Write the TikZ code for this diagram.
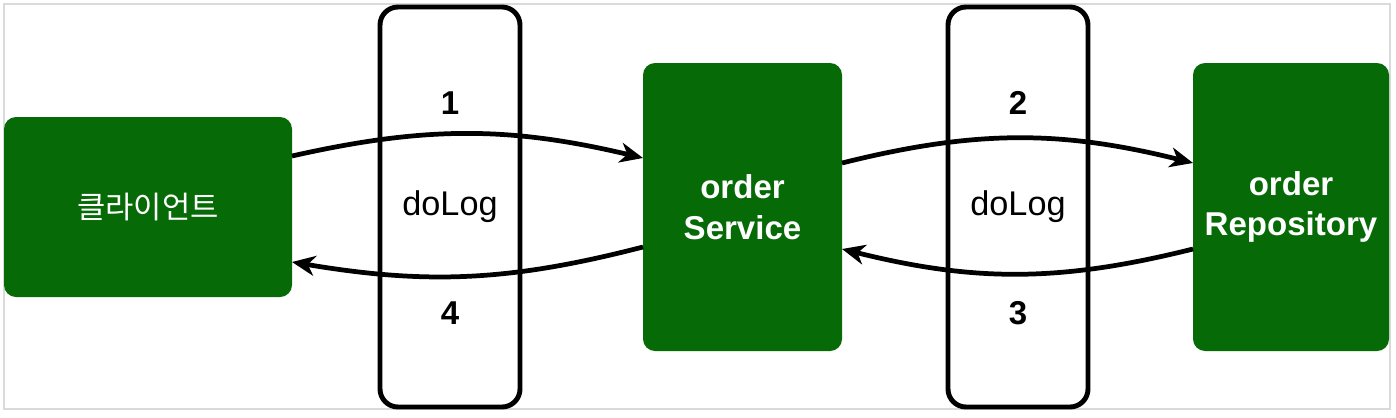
\documentclass[tikz,border=0pt]{standalone}
\usepackage{fontspec}
\setmainfont{Liberation Sans}
\newfontfamily\kofont{Noto Sans CJK KR}
\usepackage{tikz}
\usetikzlibrary{arrows.meta, positioning}
\definecolor{boxgreen}{RGB}{6,106,6}
\definecolor{framegray}{RGB}{218,218,218}
\tikzstyle{arrow} = [line width=2.7pt, -{Stealth[length=0.46cm, width=0.4cm, inset=0.14cm]}, black]
\tikzstyle{greenbox} = [rectangle, rounded corners=0.24cm, fill=boxgreen, draw=none, text=white, outer sep=0pt,
                        align=center, font=\fontsize{18.8}{23}\selectfont\bfseries]
\tikzstyle{logbox} = [rectangle, rounded corners=0.36cm, minimum width=2.8cm, minimum height=8cm, outer sep=0pt,
                      draw=black, line width=2.8pt, fill=white, align=center, font=\fontsize{19.5}{23}\selectfont]
\tikzstyle{numlabel} = [font=\fontsize{18.8}{23}\selectfont\bfseries]

\begin{document}
\begin{tikzpicture}[node distance=0.15cm]
    \useasboundingbox (0,0) rectangle (27.92,-8.34);
    % outer frame
    \draw[framegray, line width=1.1pt] (0.08,-0.08) rectangle (27.8,-8.18);

    % Boxes - one row
    \node[greenbox, minimum width=5.76cm, minimum height=3.6cm, font=\fontsize{17.5}{21}\selectfont\kofont] (client) at (2.96,-4.14) {클라이언트};
    \node[logbox, right=1.76cm of client] (log1) {doLog};
    \node[greenbox, minimum width=3.98cm, minimum height=5.76cm, right=2.46cm of log1] (service) {order\\Service};
    \node[logbox, right=2.12cm of service] (log2) {doLog};
    \node[greenbox, minimum width=3.92cm, minimum height=5.76cm, right=2.1cm of log2] (repo) {order\\Repository};

    % Arrows
    \draw[arrow] ([yshift=1.02cm]client.east) to[bend left=13] ([yshift=0.98cm]service.west);
    \draw[arrow] ([yshift=0.88cm]service.east) to[bend left=14] ([yshift=0.88cm]repo.west);
    \draw[arrow] ([yshift=-0.84cm]repo.west) to[bend left=14] ([yshift=-0.84cm]service.east);
    \draw[arrow] ([yshift=-0.8cm]service.west) to[bend left=12] ([yshift=-1.1cm]client.east);

    % Step numbers
    \node[numlabel] (n1) at ([yshift=2.08cm]log1.center) {1};
    \node[numlabel] (n4) at ([yshift=-2.12cm]log1.center) {4};
    \node[numlabel] (n2) at ([yshift=2.08cm]log2.center) {2};
    \node[numlabel] (n3) at ([yshift=-2.12cm]log2.center) {3};
\end{tikzpicture}
\end{document}
